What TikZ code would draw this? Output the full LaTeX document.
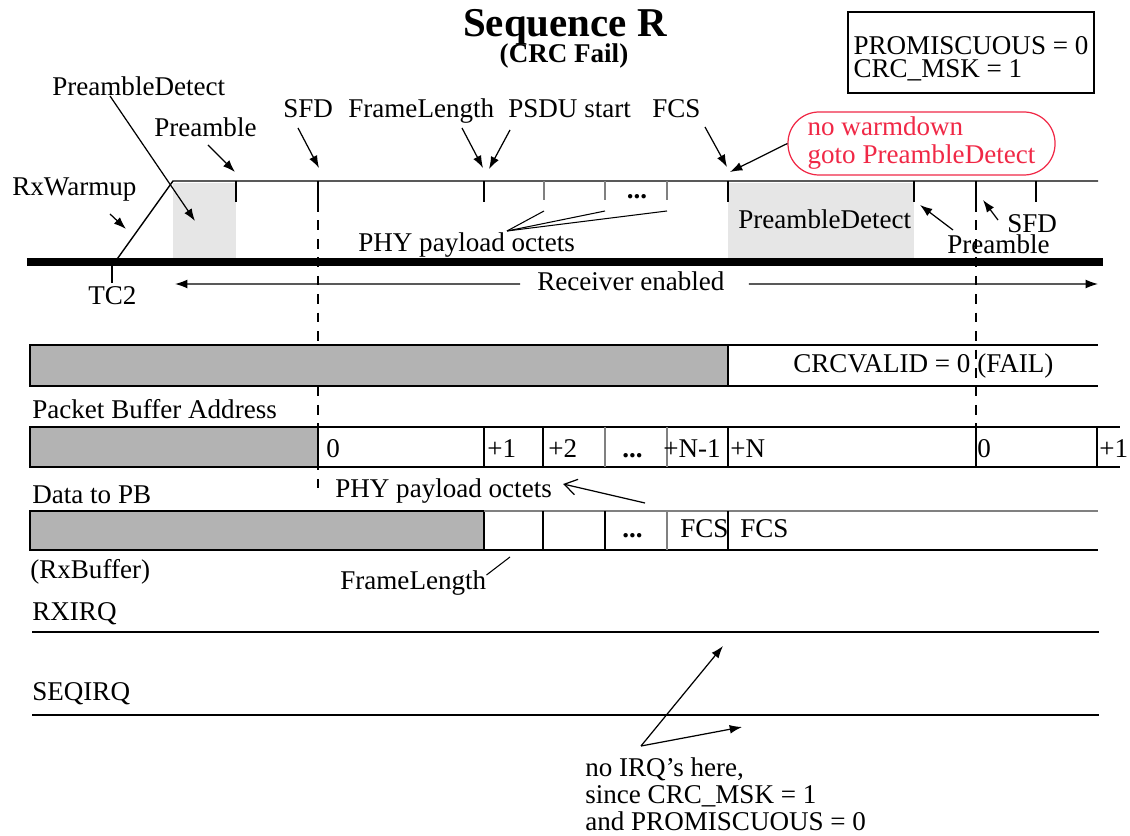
\documentclass[tikz,border=0pt]{standalone}
\usepackage{fontspec}
\setmainfont{Liberation Serif}
\usepackage{tikz}
\usetikzlibrary{arrows.meta, positioning}
\usepackage{xcolor}
\definecolor{warnred}{RGB}{240,40,70}
\definecolor{fillgray}{RGB}{179,179,179}
\definecolor{shadegray}{RGB}{230,230,230}
\newcommand{\tdfont}{\fontsize{15.4}{16}\selectfont}

\begin{document}
\begin{tikzpicture}[
        arrow/.style={-{Latex[length=7pt,width=5pt]}, line width=0.7pt},
        barb/.style={-{Straight Barb[length=7pt,width=9pt]}, line width=0.7pt},
        lbl/.style={font=\tdfont, inner sep=0pt, anchor=base west},
        tick/.style={line width=0.8pt},
        rowline/.style={line width=1pt},
        irqline/.style={line width=1.2pt},
        dashline/.style={line width=0.8pt, dash pattern=on 5.5pt off 5pt}
    ]
        \useasboundingbox (0,0) rectangle (22.6,-16.72);

        % Titolo
        \node[font=\fontsize{23.3}{25}\selectfont\bfseries, inner sep=0pt, anchor=base] (title) at (11.3,-0.74) {Sequence R};
        \node[font=\tdfont\bfseries, inner sep=0pt, anchor=base] (subtitle) at (11.28,-1.26) {(CRC Fail)};

        % Impostazioni
        \node[draw, line width=1.1pt, minimum width=4.92cm, minimum height=1.62cm, align=left, font=\fontsize{15.4}{13.2}\selectfont, inner sep=0pt] (modebox) at (19.42,-1.05) {\rule{0pt}{17.5pt}PROMISCUOUS = 0\\CRC\_MSK = 1};
        \node[draw=warnred, text=warnred, rounded corners=0.62cm, line width=0.7pt, minimum width=5.34cm, minimum height=1.26cm, align=left, font=\fontsize{15.4}{15.9}\selectfont, inner sep=0pt] (warnbox) at (18.43,-2.87) {no warmdown\\goto PreambleDetect};

        % Segnale ricevuto
        \fill[shadegray] (3.46,-3.66) rectangle (4.72,-5.18);
        \fill[shadegray] (14.56,-3.66) rectangle (18.28,-5.18);
        \draw[line width=4pt] (0.54,-5.24) -- (22.06,-5.24);
        \draw[tick] (2.3,-5.24) -- (3.46,-3.62) -- (21.96,-3.62);
        \draw[tick] (2.24,-5.24) -- (2.24,-5.66);
        \foreach \x in {4.72,6.36,9.68,14.56,18.28,19.52,20.72}
            \draw[tick] (\x,-3.62) -- (\x,-4.04);
        \foreach \x in {10.88,12.1,13.34}
            \draw[tick, gray] (\x,-3.62) -- (\x,-4.0);
        \node[font=\tdfont\bfseries, inner sep=0pt, anchor=base] (dotstop) at (12.74,-3.98) {...};
        \draw[dashline] (6.36,-4.04) -- (6.36,-9.94);
        \draw[dashline] (19.52,-4.04) -- (19.52,-8.54);

        % Etichette in alto
        \node[lbl] (pdlbl) at (1.04,-1.92) {PreambleDetect};
        \node[lbl] (prelbl) at (3.08,-2.74) {Preamble};
        \node[lbl] (warmlbl) at (0.24,-3.92) {RxWarmup};
        \node[lbl] (sfdlbl) at (5.66,-2.36) {SFD};
        \node[lbl] (fllbl) at (6.96,-2.36) {FrameLength};
        \node[lbl] (psdulbl) at (10.16,-2.36) {PSDU start};
        \node[lbl] (fcslbl) at (13.04,-2.36) {FCS};
        \node[lbl] (phylbl) at (7.16,-5.04) {PHY payload octets};
        \node[lbl] (tclbl) at (1.76,-6.1) {TC2};
        \node[lbl] (rxlbl) at (10.74,-5.82) {Receiver enabled};
        \node[lbl] (pdinlbl) at (14.76,-4.58) {PreambleDetect};
        \node[lbl] (prerlbl) at (18.94,-5.08) {Preamble};
        \node[lbl] (sfdrlbl) at (20.14,-4.66) {SFD};

        % Frecce in alto
        \coordinate (pdto) at (3.9,-4.42);
        \coordinate (preto) at (4.7,-3.44);
        \coordinate (warmto) at (2.52,-4.58);
        \coordinate (sfdto) at (6.38,-3.36);
        \coordinate (flto) at (9.66,-3.36);
        \coordinate (psduto) at (9.78,-3.38);
        \coordinate (fcsto) at (14.54,-3.34);
        \coordinate (warnto) at (14.6,-3.44);
        \coordinate (prerto) at (18.4,-4.1);
        \coordinate (sfdrto) at (19.66,-4.0);
        \coordinate (rxleft) at (3.5,-5.68);
        \coordinate (rxright) at (21.96,-5.68);
        \draw[arrow] ([xshift=1.16cm]pdlbl.base west) -- (pdto);
        \draw[arrow] ([xshift=1.08cm,yshift=-0.16cm]prelbl.base west) -- (preto);
        \draw[arrow] ([xshift=1.96cm,yshift=-0.36cm]warmlbl.base west) -- (warmto);
        \draw[arrow] ([xshift=0.3cm,yshift=-0.2cm]sfdlbl.base west) -- (sfdto);
        \draw[arrow] ([xshift=2.28cm,yshift=-0.2cm]fllbl.base west) -- (flto);
        \draw[arrow] ([xshift=0.04cm,yshift=-0.24cm]psdulbl.base west) -- (psduto);
        \draw[arrow] ([xshift=1.06cm,yshift=-0.18cm]fcslbl.base west) -- (fcsto);
        \draw[arrow] (warnbox.west) -- (warnto);
        \foreach \x in {10.88,12.1,13.34}
            \draw[line width=0.6pt] ([xshift=2.98cm,yshift=0.42cm]phylbl.base west) -- (\x,-4.22);
        \draw[arrow] ([xshift=0.12cm,yshift=0.48cm]prerlbl.base west) -- (prerto);
        \draw[arrow] ([xshift=-0.18cm,yshift=0.26cm]sfdrlbl.base west) -- (sfdrto);
        \draw[arrow] ([xshift=-0.34cm,yshift=0.14cm]rxlbl.base west) -- (rxleft);
        \draw[arrow] ([xshift=0.48cm,yshift=0.14cm]rxlbl.base east) -- (rxright);

        % CRCVALID
        \draw[rowline, fill=fillgray] (0.6,-6.9) rectangle (14.56,-7.72);
        \draw[rowline] (14.56,-6.9) -- (21.96,-6.9) (14.56,-7.72) -- (21.96,-7.72);
        \node[lbl] (crclbl) at (15.86,-7.46) {CRCVALID = 0 (FAIL)};

        % Packet Buffer Address
        \node[lbl] (pbalbl) at (0.64,-8.38) {Packet Buffer Address};
        \draw[rowline, fill=fillgray] (0.6,-8.54) rectangle (6.36,-9.34);
        \draw[rowline] (6.36,-8.54) -- (22.4,-8.54) (6.36,-9.34) -- (22.4,-9.34);
        \foreach \x in {9.68,10.86,14.56,19.52,21.94}
            \draw[rowline] (\x,-8.54) -- (\x,-9.34);
        \foreach \x in {12.1,13.34}
            \draw[rowline, gray] (\x,-8.54) -- (\x,-9.34);
        \node[lbl] (addr0) at (6.52,-9.14) {0};
        \node[lbl] (addr1) at (9.74,-9.14) {+1};
        \node[lbl] (addr2) at (10.96,-9.14) {+2};
        \node[lbl, font=\tdfont\bfseries] (addrdots) at (12.44,-9.14) {...};
        \node[lbl] (addrn1) at (13.26,-9.14) {+N-1};
        \node[lbl] (addrn) at (14.6,-9.14) {+N};
        \node[lbl] (addrb0) at (19.54,-9.14) {0};
        \node[lbl] (addrb1) at (21.98,-9.14) {+1};

        % Data to PB
        \node[lbl] (datalbl) at (0.64,-10.06) {Data to PB};
        \node[lbl] (phy2lbl) at (6.7,-9.94) {PHY payload octets};
        \draw[rowline, fill=fillgray] (0.6,-10.22) rectangle (9.68,-11.0);
        \draw[rowline, gray] (9.68,-10.22) -- (21.96,-10.22);
        \draw[rowline] (9.68,-11.0) -- (21.96,-11.0);
        \foreach \x in {10.86,12.1,14.56}
            \draw[rowline] (\x,-10.22) -- (\x,-11.0);
        \draw[rowline, gray] (13.34,-10.22) -- (13.34,-11.0);
        \node[lbl, font=\tdfont\bfseries] (datadots) at (12.44,-10.74) {...};
        \node[lbl] (fcs1) at (13.6,-10.74) {FCS};
        \node[lbl] (fcs2) at (14.8,-10.74) {FCS};
        \node[lbl] (rxbuflbl) at (0.6,-11.56) {(RxBuffer)};
        \node[lbl] (fl2lbl) at (6.8,-11.78) {FrameLength};
        \coordinate (phyfrom) at (12.9,-10.06);
        \coordinate (flto2) at (10.2,-11.14);
        \draw[barb] (phyfrom) -- ([xshift=0.22cm,yshift=0.26cm]phy2lbl.base east);
        \draw[line width=0.6pt] ([yshift=0.28cm]fl2lbl.base east) -- (flto2);

        % Interrupt
        \node[lbl] (rxirqlbl) at (0.64,-12.4) {RXIRQ};
        \draw[irqline] (0.64,-12.64) -- (21.98,-12.64);
        \node[lbl] (seqirqlbl) at (0.64,-14.0) {SEQIRQ};
        \draw[irqline] (0.64,-14.3) -- (21.98,-14.3);
        \node[font=\fontsize{15.4}{15.4}\selectfont, inner sep=0pt, anchor=north west, align=left] (irqnote) at (11.7,-15.14) {no IRQ's here,\\since CRC\_MSK = 1\\and PROMISCUOUS = 0};
        \coordinate (rxirqto) at (14.46,-12.92);
        \coordinate (seqirqto) at (14.84,-14.54);
        \draw[arrow] ([xshift=1.12cm,yshift=0.22cm]irqnote.north west) -- (rxirqto);
        \draw[arrow] ([xshift=1.12cm,yshift=0.22cm]irqnote.north west) -- (seqirqto);
    \end{tikzpicture}
\end{document}
